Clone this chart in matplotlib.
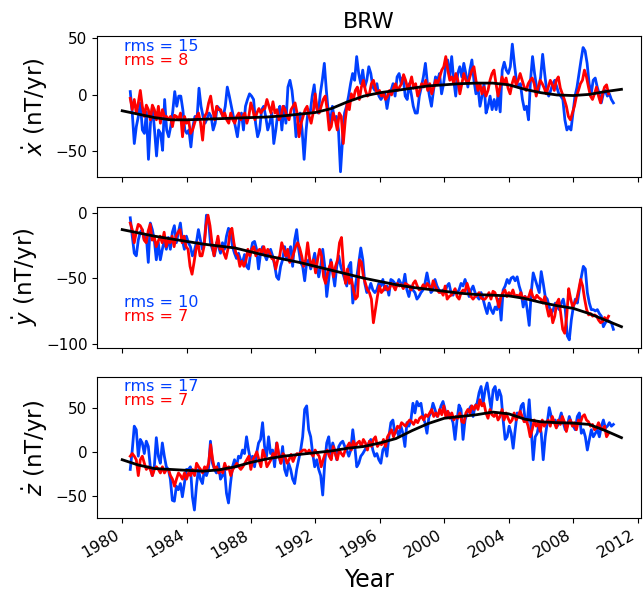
import numpy as np
import matplotlib
matplotlib.use('Agg')
import matplotlib.pyplot as plt

# secular variation at BRW (nT/yr)
x_blue = [3, -16, -43, -28, -19, -7, -31, -34, -15, -57,
          -25, -10, -31, -54, -31, -34, -49, -4, -31, -37,
          -28, -15, 3, -10, -1, -1, -13, -31, -34, -31,
          -46, -28, -19, -22, 6, -10, -19, -25, -21, -16,
          -19, -31, -25, -10, -12, -16, -19, -10, 7, -1,
          -10, -19, -28, -37, -22, -16, -31, -10, -4, 1,
          -1, -4, -25, -37, -31, -13, -10, -19, -31, -25,
          -16, -43, -31, -16, -10, -31, -10, -25, 7, 13,
          4, -13, -37, -25, -16, -31, -57, -31, -13, -16,
          -1, 9, -10, -16, 1, 13, 28, 4, -16, -25,
          -10, -22, -19, -31, -68, -40, -16, -10, -1, 10,
          19, 13, 34, 19, 10, 22, 7, 13, 25, 19,
          7,
          4, 10, -1, -4, -1, 1, -12, -1, 4, 10,
          -1, 16, 19, 10, 16, -1, -4, 10, 1, -10,
          -16, -16, -1, 7, 16, 28, 10, -1, -10, 4,
          16, 13, 19, 1, 10, 25, 31, 16, 34, 13,
          -1, 19, 25, 16, 28, 19, 7, 22, 31, 13,
          1, 7, -10, -1, 10, -16, -10, -1, -13, -4,
          -13, 1, -15, 22, 29, 22, 19, 25, 45, 28,
          13, 7, 10, -4, -13, -10, -22, 13, 34, 19,
          7, 4, 16, 36, 19, 4, -1, 4, 10, 13,
          7, 1, -1, -4, -22, -31, -28, -31, -16, -1,
          7, 19, 31, 42, 39, 28, 10, 1, 13, 15,
          7, 1, -7, 1, 4, -1, 1, -4, -7]
x_red = [-3, -13, -4, -16, -7, 4, -10, -19, -9, -13,
         -22, -9, -13, -22, -10, -25, -13, -19, -19, -22,
         -19, -28, -18, -19, -22, -16, -37, -19, -25, -22,
         -34, -31, -25, -19, -16, -25, -40, -19, -16, -7,
         -1, -13, -22, -10, -13, -13, -19, -16, -22, -25,
         -16, -22, -25, -19, -16, -22, -19, -16, -25, -19,
         -7, -13, -22, -16, -12, -16, -13, -12, -4, -10,
         -16, -6, -16, -13, -22, -19, -10, -13, -19, -22,
         -13, -10, -7, -16, -37, -25, -19, -13, -10, -19,
         -25, -16, 1, -13, -16, -10, -4, -1, -13, -31,
         -28, -16, -22, -31, -16, -19, -43, -22, -7, -13,
         1, -4, 4, 7, -4, 7, 13, 4, -1, 1,
         10, 13, 6,
         1, 4, -1, 1, -4, -1, 4, 0, 6, 10,
         4, 7, 10, 18, 13, 6, 9, 16, 6, 10,
         -1, 4, 10, 7, 13, 4, 10, 1, 7, 13,
         10, 16, 22, 25, 34, 22, 13, 16, 10, 19,
         13, 1, 10, 19, 13, 10, 16, 22, 25, 13,
         4, 10, 1, 7, -1, 4, 13, 19, 22, 10,
         -1, 7, 16, 10, 15, 6, 1, 10, 16, 9,
         13, 19, 13, 7, 4, 10, 13, 15, 10, -1,
         7, 13, 10, 6, 1, 7, 13, 9, 4, 13,
         16, 6, 1, -4, -10, -19, -22, -16, -10, -1,
         4, 10, 13, 22, 16, 7, -1, -4, 1, 7,
         -1, -7, 1, 7, 9, 1]
y_blue = [-4, -18, -31, -33, -21, -15, -13, -21, -18, -38,
          -8, -13, -21, -36, -23, -36, -28, -21, -28, -19,
          -28, -15, -10, -23, -15, -8, -21, -28, -18, -23,
          -26, -33, -29, -23, -13, -21, -28, -22, -2, -5,
          -23, -28, -33, -23, -26, -31, -23, -28, -18, -12,
          -15, -26, -31, -35, -31, -36, -38, -32, -41, -43,
          -31, -23, -22, -28, -43, -31, -26, -32, -36, -31,
          -28, -33, -40, -49, -51, -41, -36, -26, -35, -31,
          -26, -41, -21, -13, -28, -38, -41, -52, -38, -36,
          -43, -38, -31, -41, -49, -41, -28, -41, -64, -51,
          -36, -46, -56, -41, -33, -41, -46, -51, -56, -41,
          -38, -69, -59, -49, -38, -27, -36, -54, -61, -59,
          -54, -59, -61,
          -59, -54, -56, -51, -59, -56, -63, -51, -52, -54,
          -56, -51, -54, -56, -47, -59, -64, -56, -59, -61,
          -66, -64, -61, -59, -54, -46, -54, -61, -59, -51,
          -56, -59, -61, -59, -61, -56, -54, -61, -63, -59,
          -61, -59, -54, -56, -51, -56, -64, -59, -56, -61,
          -64, -66, -61, -66, -72, -77, -69, -74, -77, -72,
          -74, -66, -82, -59, -56, -51, -54, -50, -49, -52,
          -49, -56, -61, -72, -64, -74, -86, -61, -46, -51,
          -56, -61, -45, -54, -64, -66, -72, -77, -74, -69,
          -72, -74, -69, -66, -74, -94, -97, -82, -72, -66,
          -69, -59, -49, -41, -43, -61, -69, -74, -74, -75,
          -74, -77, -79, -87, -84, -82, -83, -84, -89]
y_red = [-8, -13, -23, -15, -9, -10, -13, -21, -23, -14,
         -9, -21, -18, -26, -22, -18, -23, -15, -26, -21,
         -23, -18, -26, -18, -15, -13, -23, -18, -26, -28,
         -41, -47, -38, -28, -23, -33, -33, -26, -10, -2,
         -10, -23, -33, -26, -18, -28, -26, -31, -35, -28,
         -15, -12, -23, -31, -33, -41, -37, -41, -37, -28,
         -33, -28, -26, -33, -29, -28, -31, -26, -32, -28,
         -31, -35, -36, -43, -36, -33, -23, -28, -33, -28,
         -38, -36, -31, -26, -23, -27, -33, -41, -36, -23,
         -35, -41, -36, -46, -36, -28, -33, -49, -54, -46,
         -41, -38, -49, -41, -36, -23, -19, -41, -54, -43,
         -54, -51, -59, -66, -64, -36, -38, -49, -54, -59,
         -61, -66, -84,
         -74, -64, -56, -61, -59, -56, -59, -58, -54, -56,
         -59, -54, -56, -55, -58, -54, -55, -56, -59, -54,
         -52, -56, -59, -58, -55, -58, -54, -56, -59, -52,
         -56, -59, -61, -60, -63, -56, -66, -64, -63, -61,
         -58, -64, -66, -61, -59, -60, -54, -59, -64, -66,
         -64, -63, -61, -65, -66, -66, -64, -61, -66, -60,
         -61, -66, -72, -64, -61, -59, -64, -61, -63, -59,
         -64, -63, -64, -61, -66, -64, -66, -64, -59, -64,
         -66, -63, -65, -66, -69, -64, -72, -79, -74, -84,
         -79, -69, -66, -77, -89, -92, -79, -58, -66, -72,
         -69, -66, -59, -51, -56, -66, -74, -78, -77, -79,
         -78, -79, -82, -84, -83, -80, -82, -79]
z_blue = [-20, 2, 29, 25, -5, 14, 10, -2, 12, 6,
          -17, -27, -17, 16, -5, -13, 10, -5, -17, -20,
          -31, -55, -56, -39, -43, -36, -51, -36, -20, -20,
          -17, -51, -66, -39, -20, -31, -36, -20, -27, -20,
          12, -13, -20, -24, -13, -31, -27, -20, -47, -58,
          -36, -17, -9, -17, -5, -7, 2, -2, 17, 2,
          -9, -5, -17, -2, 10, 14, 33, 6, -5, 17,
          -2, 2, -17, 10, -2, -13, 6, -20, -27, -13,
          -20, -31, -36, -20, -9, 2, 17, 48, 52, 25,
          17, -2, -17, -9, -20, -27, -49, -13, 10, 17,
          -5, 10, 2, -9, 6, 10, 12, 6, 2, -5,
          2, 25, 6, -17, -13, -5, -2, 2, 6, 10,
          14, 2, -5,
          -2, -9, -13, 2, 6, -5, 17, 33, 36, 21,
          25, 17, 29, 21, 6, 33, 29, 36, 55, 44,
          57, 52, 55, 40, 33, 21, 40, 44, 55, 48,
          40, 44, 52, 57, 48, 40, 44, 40, 33, 14,
          36, 53, 48, 14, 36, 44, 48, 52, 40, 52,
          55, 67, 74, 55, 70, 78, 63, 48, 70, 74,
          59, 70, 63, 36, 14, 17, 29, 21, 4, 25,
          44, 40, 52, 55, 36, 33, 59, 25, -9, 17,
          21, 33, 21, -9, 17, 33, 50, 40, 33, 36,
          29, 36, 44, 33, 25, 29, 40, 33, 29, 25,
          40, 44, 21, 25, 17, 2, 14, 25, 17, 21,
          25, 17, 29, 36, 27, 29, 33, 29, 31]
z_red = [-5, -2, -5, -9, -27, -9, -5, -13, -20, -17,
         -20, -27, -20, -17, -20, -24, -17, -24, -20, -20,
         -27, -31, -39, -31, -24, -27, -31, -24, -31, -24,
         -27, -20, -27, -13, -17, -20, -24, -17, -20, -13,
         8, -9, -20, -17, -24, -20, -24, -13, -20, -17,
         -27, -20, -17, -13, -17, -20, -17, -13, -9, -5,
         -20, -9, -5, 0, -9, -17, 2, -5, -17, -13,
         -9, -2, -7, 10, -5, -13, -2, -5, -13, -9,
         -3, -11, -5, -2, -3, 0, 2, 2, -2, 2,
         -2, -5, 2, -2, -5, -17, -9, -2, 2, -5,
         -9, 6, -2, -9, 2, -2, -5, 2, 6, 10,
         2, 12, 6, 10, 12, 6, 14, 10, 2, 12,
         6, 14, 17,
         6, 10, 8, 14, 6, 17, 21, 25, 17, 23,
         29, 27, 33, 31, 29, 33, 36, 34, 31, 36,
         33, 38, 40, 36, 42, 40, 44, 48, 40, 44,
         40, 48, 42, 52, 40, 46, 38, 44, 36, 40,
         38, 44, 34, 33, 44, 48, 44, 52, 48, 53,
         48, 59, 52, 55, 44, 38, 48, 42, 40, 44,
         36, 40, 48, 36, 44, 38, 33, 36, 44, 36,
         40, 46, 40, 34, 36, 29, 17, 25, 36, 29,
         33, 23, 36, 29, 33, 36, 29, 40, 33, 27,
         36, 31, 40, 34, 23, 33, 36, 29, 33, 25,
         36, 33, 40, 42, 36, 34, 29, 31, 25, 27,
         33, 27, 25, 29, 17, 21]

# smooth model curves, one value per year 1980..2011
model_years = np.arange(1980, 2012)
x_model = [-14, -17, -20, -22, -22, -21.5, -21, -20.5, -20, -19.5,
           -18.5, -17, -15.5, -12, -6, -1, 2, 4, 6, 8,
           9, 10, 10.5, 10.5, 9, 5, 2, 0, -0.5, 0.5, 3, 5]
y_model = [-13, -15.5, -18, -20, -22, -24, -25.5, -27, -30, -33,
           -35.5, -38, -41, -44, -47, -50, -52.5, -55, -57, -58.5,
           -60, -61.5, -62.5, -63, -63.5, -65.5, -68.5, -71, -73, -77, -82, -87]
z_model = [-9, -15, -19, -20, -21, -22, -20.5, -17, -12, -8,
           -5, -3, -1, 1, 4, 6, 10, 15, 24, 32,
           38, 40, 42, 45, 43, 37, 34, 33, 32.5, 31, 24, 16]

rms_blue = [15, 10, 17]
rms_red = [8, 7, 7]
labels = [r'$\dot{x}$ (nT/yr)', r'$\dot{y}$ (nT/yr)', r'$\dot{z}$ (nT/yr)']

blue = '#0040ff'
red = '#ff0000'

fig, axes = plt.subplots(3, 1, sharex=True, figsize=(6.44, 5.94), dpi=100)
fig.subplots_adjust(left=0.151, right=0.995, top=0.939, bottom=0.128, hspace=0.206)

series = [(x_blue, x_red, x_model), (y_blue, y_red, y_model), (z_blue, z_red, z_model)]
ylims = [(-73, 52), (-103, 4.6), (-75, 85)]
yticks = [[-50, 0, 50], [-100, -50, 0], [-50, 0, 50]]
text_y = [(0.93, 0.83), (0.32, 0.22), (0.93, 0.83)]

for i, ax in enumerate(axes):
    b, r, m = series[i]
    tb = np.linspace(1980.5, 2010.5, len(b))
    tr = np.linspace(1980.5, 2010.2, len(r))
    ax.plot(tb, b, color=blue, lw=2)
    ax.plot(tr, r, color=red, lw=2)
    ax.plot(model_years, m, color='k', lw=2)
    ax.set_ylim(*ylims[i])
    ax.set_yticks(yticks[i])
    ax.set_ylabel(labels[i], fontsize=16.5)
    ax.tick_params(axis='y', labelsize=11)
    ax.tick_params(axis='x', labelsize=11.5)
    ax.text(0.05, text_y[i][0], 'rms = %d' % rms_blue[i], color=blue,
            transform=ax.transAxes, fontsize=11.5, va='center')
    ax.text(0.05, text_y[i][1], 'rms = %d' % rms_red[i], color=red,
            transform=ax.transAxes, fontsize=11.5, va='center')

axes[0].set_title('BRW', fontsize=16)
axes[2].set_xlim(1978.45, 2012.2)
axes[2].set_xticks(np.arange(1980, 2013, 4))
for lab in axes[2].get_xticklabels():
    lab.set_rotation(30)
    lab.set_ha('right')
axes[2].set_xlabel('Year', fontsize=17, labelpad=5)

fig.savefig('out.png', dpi=100)
